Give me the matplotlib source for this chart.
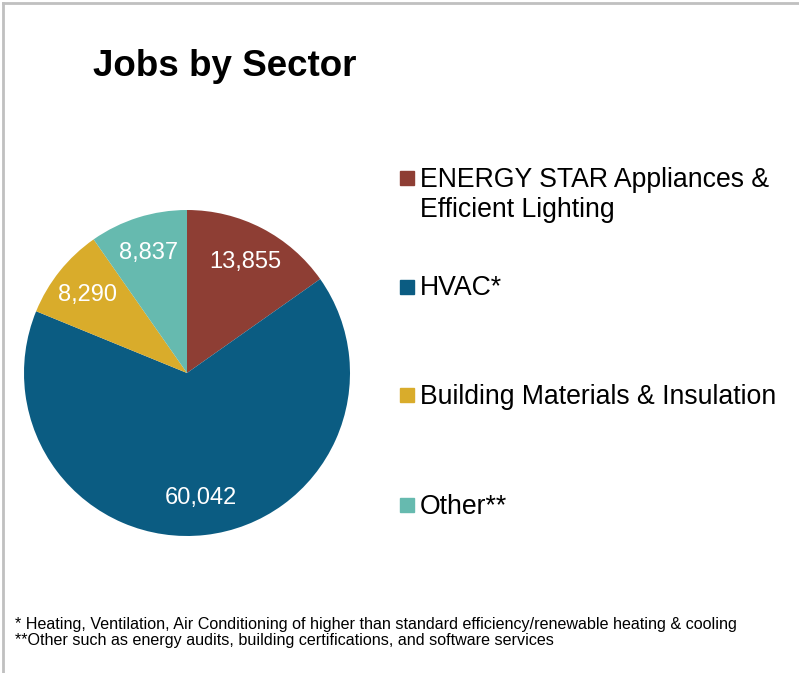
import numpy as np
import matplotlib.pyplot as plt
import matplotlib.patches as mpatches
from matplotlib.lines import Line2D

plt.rcParams["font.family"] = ["Liberation Sans", "DejaVu Sans"]

# ── Data ──────────────────────────────────────────────────────────────────────
sectors = ["ENERGY STAR Appliances &\nEfficient Lighting", "HVAC*",
           "Building Materials & Insulation", "Other**"]
jobs = [13855, 60042, 8290, 8837]
colors = ["#8E3E34", "#0B5C82", "#D9AC2B", "#66BAAF"]
footnotes = [
    "* Heating, Ventilation, Air Conditioning of higher than standard efficiency/renewable heating & cooling",
    "**Other such as energy audits, building certifications, and software services",
]

W, H = 799, 673
fig = plt.figure(figsize=(W / 100, H / 100), dpi=100)

# rand boven en links
fig.add_artist(Line2D([3 / W, 1], [1 - 3 / H, 1 - 3 / H], color="#c0c0c0", lw=2))
fig.add_artist(Line2D([3 / W, 3 / W], [0, 1 - 3 / H], color="#c0c0c0", lw=2))

fig.text(93 / W, 1 - 67 / H, "Jobs by Sector", fontsize=26.5, fontweight="bold",
         ha="left", va="center")

# ── Pie ───────────────────────────────────────────────────────────────────────
cx, cy, r = 187, 373, 163
ax = fig.add_axes([(cx - r) / W, (H - cy - r) / H, 2 * r / W, 2 * r / H])
wedges, _ = ax.pie(jobs, colors=colors, startangle=90, counterclock=False,
                   wedgeprops=dict(linewidth=0))
ax.set_xlim(-1, 1)
ax.set_ylim(-1, 1)
ax.set_aspect("equal")
ax.axis("off")

for w, v in zip(wedges, jobs):
    ang = np.deg2rad((w.theta1 + w.theta2) / 2)
    ax.text(0.78 * np.cos(ang), 0.77 * np.sin(ang), f"{v:,}", color="white",
            fontsize=17, ha="center", va="center")

# ── Legenda ───────────────────────────────────────────────────────────────────
box_y = [178, 287, 395, 505]
text_y = [195, 288, 397, 507]
for lab, col, by, ty in zip(sectors, colors, box_y, text_y):
    fig.add_artist(mpatches.Rectangle((400 / W, 1 - (by + 7) / H), 14 / W, 14 / H,
                                      transform=fig.transFigure, color=col))
    fig.text(420 / W, 1 - ty / H, lab, fontsize=19.2, ha="left", va="center",
             linespacing=1.17)

# ── Voetnoten ─────────────────────────────────────────────────────────────────
for i, note in enumerate(footnotes):
    fig.text(15 / W, 1 - (624 + 17 * i) / H, note, fontsize=11.65, ha="left", va="center")

fig.savefig("out.png", dpi=100)
